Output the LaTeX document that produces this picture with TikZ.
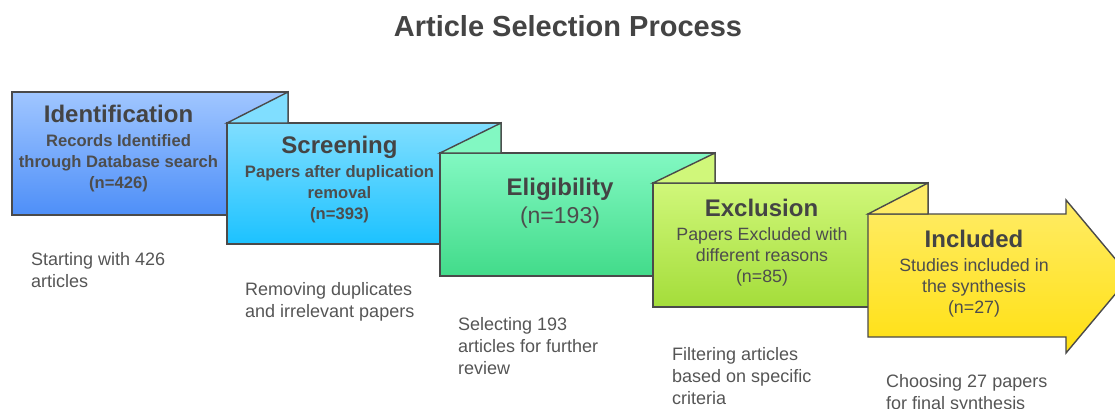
\documentclass[tikz,border=0pt]{standalone}
\usepackage{fontspec}
\setmainfont{Liberation Sans}
\usetikzlibrary{calc}

\definecolor{inkdark}{HTML}{444444}
\definecolor{inksub}{HTML}{4D4D4D}
\definecolor{inkcap}{HTML}{555555}
\definecolor{edge}{HTML}{4A4A4A}
% stage colours: top / bottom of each gradient
\definecolor{idTop}{RGB}{160,198,255}
\definecolor{idBot}{RGB}{78,143,248}
\definecolor{scTop}{RGB}{128,222,255}
\definecolor{scBot}{RGB}{28,194,255}
\definecolor{elTop}{RGB}{130,248,194}
\definecolor{elBot}{RGB}{66,219,138}
\definecolor{exTop}{RGB}{208,247,122}
\definecolor{exBot}{RGB}{164,221,58}
\definecolor{inTop}{RGB}{255,236,102}
\definecolor{inBot}{RGB}{255,224,18}

% multi-line nodes sit on the baseline of their last line
\tikzset{
  stagebox/.style={draw=edge, line width=1.4pt, line join=miter},
  stagetitle/.style={font=\fontsize{24}{28}\selectfont\bfseries, text=inkdark, inner sep=0pt, anchor=base},
  stagesubb/.style={font=\fontsize{16.6}{21}\selectfont\bfseries, text=inksub, inner sep=0pt, align=center, anchor=base},
  stagesub/.style={font=\fontsize{17.8}{21}\selectfont, text=inksub, inner sep=0pt, align=center, anchor=base},
  caption/.style={font=\fontsize{18}{22}\selectfont, text=inkcap, inner sep=0pt, align=left, anchor=base west},
}

\begin{document}
\begin{tikzpicture}[x=1pt, y=-1pt]
\useasboundingbox (0,0) rectangle (1115,409);
\begin{scope}
\clip (0,0) rectangle (1115,409);

% Identification
\path[stagebox, top color=idTop, bottom color=idBot]
  (12,92) rectangle (288,215);

% Screening, with its fold flap
\path[stagebox, top color=scTop, bottom color=scBot]
  (227,123) rectangle (501,244);
\path[stagebox, fill=scTop] (227,123) -- (288,92) -- (288,123) -- cycle;

% Eligibility
\path[stagebox, top color=elTop, bottom color=elBot]
  (440,153) rectangle (715,276);
\path[stagebox, fill=elTop] (440,153) -- (501,123) -- (501,153) -- cycle;

% Exclusion
\path[stagebox, top color=exTop, bottom color=exBot]
  (653,183) rectangle (928,307);
\path[stagebox, fill=exTop] (653,183) -- (715,153) -- (715,183) -- cycle;

% Included: arrow-shaped last stage
\path[stagebox, top color=inTop, bottom color=inBot]
  (868,214) -- (1066,214) -- (1066,200) -- (1130,276.5) -- (1066,353)
  -- (1066,337) -- (868,337) -- cycle;
\path[stagebox, fill=inTop] (868,214) -- (928,183) -- (928,214) -- cycle;
\end{scope}

% heading
\node[font=\fontsize{29}{32}\selectfont\bfseries, text=inkdark, inner sep=0pt, anchor=base]
  (heading) at (568,37) {Article Selection Process};

% stage texts
\node[stagetitle] (idT) at (118.5,122.7) {Identification};
\node[stagesubb]  (idS) at (118.5,188) {Records Identified\\through Database search\\(n=426)};

\node[stagetitle] (scT) at (339.5,153.5) {Screening};
\node[stagesubb]  (scS) at (339.5,219) {Papers after duplication\\removal\\(n=393)};

\node[stagetitle] (elT) at (560,195) {Eligibility};
\node[font=\fontsize{23}{26}\selectfont, text=inksub, inner sep=0pt, anchor=base]
  (elS) at (560,223.5) {(n=193)};

\node[stagetitle] (exT) at (761.5,216) {Exclusion};
\node[stagesub]   (exS) at (762,282) {Papers Excluded with\\different reasons\\(n=85)};

\node[stagetitle] (inT) at (974,247) {Included};
\node[stagesub]   (inS) at (974,313) {Studies included in\\the synthesis\\(n=27)};

% step descriptions
\node[caption] (idC) at (31,287) {Starting with 426\\articles};
\node[caption] (scC) at (245,317) {Removing duplicates\\and irrelevant papers};
\node[caption] (elC) at (458,374) {Selecting 193\\articles for further\\review};
\node[caption] (exC) at (672,404) {Filtering articles\\based on specific\\criteria};
\node[caption] (inC) at (886,409) {Choosing 27 papers\\for final synthesis};
\end{tikzpicture}
\end{document}
